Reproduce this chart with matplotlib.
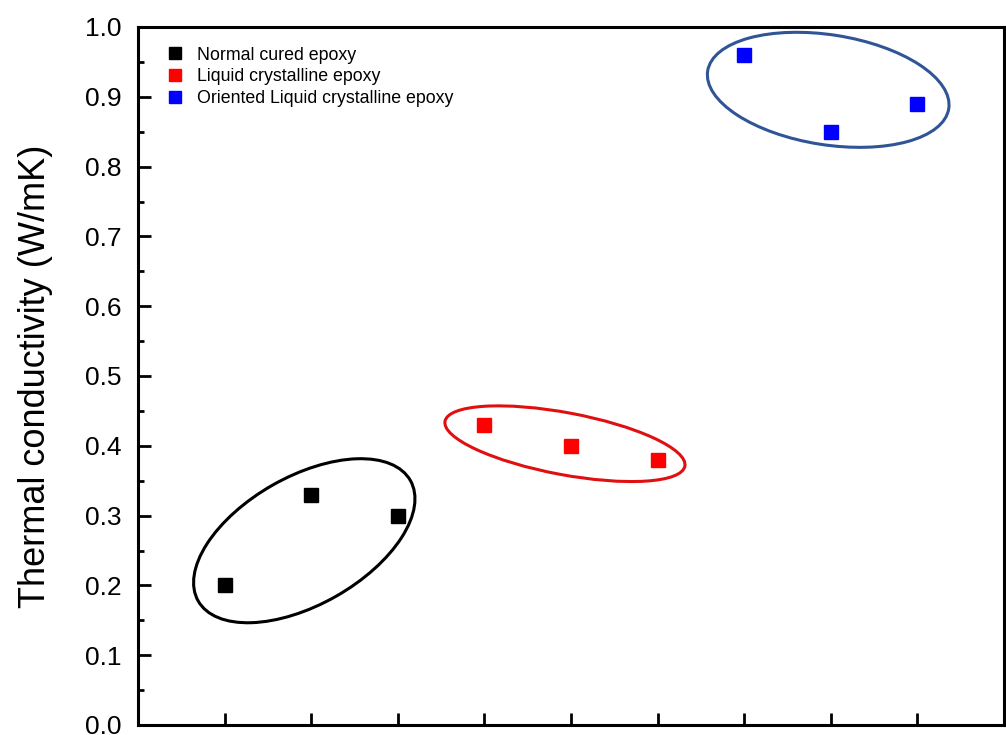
import matplotlib
matplotlib.use("Agg")
import matplotlib.pyplot as plt
from matplotlib.patches import Ellipse
from matplotlib.transforms import ScaledTranslation
from matplotlib.ticker import MultipleLocator, FormatStrFormatter

plt.rcParams['font.family'] = ['Liberation Sans', 'DejaVu Sans']

# Sample index and thermal conductivity (W/mK) for each epoxy type
normal_x = [1, 2, 3]
normal_k = [0.20, 0.33, 0.30]
lc_x = [4, 5, 6]
lc_k = [0.43, 0.40, 0.38]
olc_x = [7, 8, 9]
olc_k = [0.96, 0.85, 0.89]

labels = ["Normal cured epoxy", "Liquid crystalline epoxy",
          "Oriented Liquid crystalline epoxy"]
colors = ["#000000", "#ff0000", "#0000ff"]

# Group outlines: centre (data), semi-axes (px), rotation (deg), colour
outline_centres = [(1.92, 0.264), (4.93, 0.403), (7.97, 0.910)]
outline_axes = [(122, 64), (122, 31), (122, 55)]
outline_angles = [29.6, -10.6, -8.9]
outline_colors = ["#000000", "#e01010", "#2f5597"]

fig = plt.figure(figsize=(10.06, 7.35), dpi=100)
ax = fig.add_axes([138 / 1006, 10 / 735, 866 / 1006, 698 / 735])

for xs, ys, lab, c in zip([normal_x, lc_x, olc_x], [normal_k, lc_k, olc_k],
                          labels, colors):
    ax.plot(xs, ys, linestyle="none", marker="s", markersize=10,
            color=c, label=lab, zorder=3)

ax.set_xlim(0, 10)
ax.set_ylim(0, 1.0)

for (cx, cy), (a, b), ang, c in zip(outline_centres, outline_axes,
                                    outline_angles, outline_colors):
    e = Ellipse((0, 0), 2 * a, 2 * b, angle=ang, fill=False,
                edgecolor=c, linewidth=2.2,
                transform=ScaledTranslation(cx, cy, ax.transData),
                clip_on=False)
    ax.add_patch(e)

ax.xaxis.set_major_locator(MultipleLocator(1))
ax.yaxis.set_major_locator(MultipleLocator(0.1))
ax.yaxis.set_minor_locator(MultipleLocator(0.05))
ax.tick_params(axis="x", which="major", direction="in", length=9,
               width=2, bottom=True, top=False, labelbottom=False)
ax.tick_params(axis="y", which="major", direction="in", length=9,
               width=2, labelsize=19, pad=12)
ax.tick_params(axis="y", which="minor", direction="in", length=4.5,
               width=2)
ax.yaxis.set_major_formatter(FormatStrFormatter("%.1f"))

for s in ax.spines.values():
    s.set_linewidth(2.2)

ax.set_ylabel("Thermal conductivity (W/mK)", fontsize=26, labelpad=23)

ax.legend(loc="upper left", frameon=False, fontsize=12.8,
          handlelength=0.8, handletextpad=0.85, labelspacing=0.26,
          borderaxespad=0.7, bbox_to_anchor=(0.012, 1.0), markerscale=0.9)

fig.savefig("out.png", dpi=100)
